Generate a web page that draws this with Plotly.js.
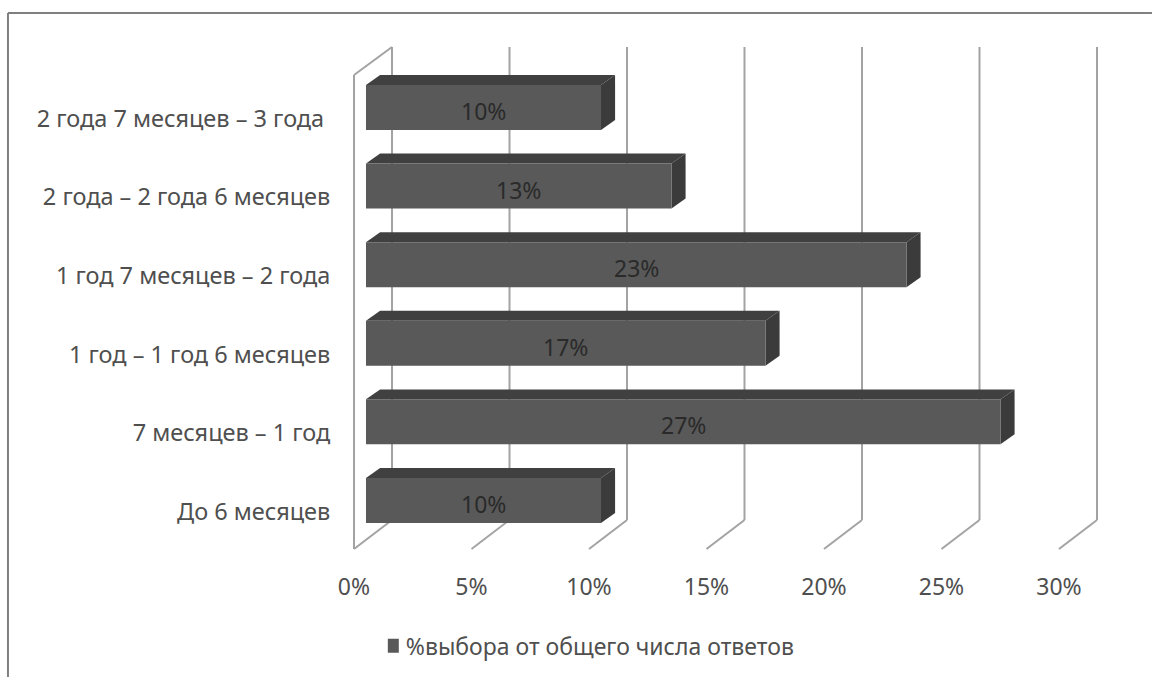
<!DOCTYPE html>
<html>
<head>
<meta charset="utf-8">
<script src="https://cdn.plot.ly/plotly-3.0.1.min.js"></script>
<style>html,body{margin:0;padding:0;background:#fff}</style>
</head>
<body>
<div id="chart" style="width:1152px;height:677px"></div>
<script>
// Duration groups, bottom to top, and their share of answers
const categories = [
  'До 6 месяцев',
  '7 месяцев – 1 год',
  '1 год – 1 год 6 месяцев',
  '1 год 7 месяцев – 2 года',
  '2 года – 2 года 6 месяцев',
  '2 года 7 месяцев – 3 года\u00a0'
];
const shares = [10, 27, 17, 23, 13, 10];
const seriesName = '%выбора от общего числа ответов';
const tickValues = [0, 5, 10, 15, 20, 25, 30];
const tickLabels = ['0%', '5%', '10%', '15%', '20%', '25%', '30%'];

// Pseudo-3D geometry, in axis units
const barBase = 0.51, barWidth = 0.5725, barOffset = -0.146;
const barDepthX = 0.6, barDepthY = 0.127;
const wallDepthX = 1.617;
const wallFront = [-0.477, 5.553], wallBack = [-0.108, 5.91];

const frontColor = '#595959', topColor = '#404040', sideColor = '#3b3b3b';
const gridLine = {color: '#a3a3a3', width: 2};

const shapes = [];
const poly = (pts, fill) => shapes.push({
  type: 'path', xref: 'x', yref: 'y', layer: 'below', fillcolor: fill,
  line: {width: 0},
  path: 'M' + pts.map(p => p.join(',')).join('L') + 'Z'
});
const seg = (x0, y0, x1, y1) => shapes.push({
  type: 'line', xref: 'x', yref: 'y', layer: 'below', x0, y0, x1, y1, line: gridLine
});

// Side wall and floor lines
seg(0, wallFront[0], 0, wallFront[1]);
seg(0, wallFront[1], wallDepthX, wallBack[1]);
tickValues.forEach(t => {
  seg(t + wallDepthX, wallBack[0], t + wallDepthX, wallBack[1]);
  seg(t, wallFront[0], t + wallDepthX, wallBack[0]);
});

// Top and end faces of every bar
shares.forEach((v, i) => {
  const x0 = barBase, x1 = barBase + v;
  const y0 = i + barOffset, y1 = y0 + barWidth;
  poly([[x0, y1], [x0 + barDepthX, y1 + barDepthY], [x1 + barDepthX, y1 + barDepthY], [x1, y1]], topColor);
  poly([[x1, y0], [x1 + barDepthX, y0 + barDepthY], [x1 + barDepthX, y1 + barDepthY], [x1, y1]], sideColor);
});

// Value labels sit just under the middle of each front face
const annotations = shares.map((v, i) => ({
  x: barBase + v / 2, y: i, xref: 'x', yref: 'y', text: v + '%', showarrow: false,
  yshift: 7.5, font: {family: 'Noto Sans', size: 23, color: '#2a2a2a'}
}));

const frame = [
  {type: 'line', xref: 'paper', yref: 'paper', x0: -0.4312, x1: -0.4312, y0: -0.21, y1: 1.0317,
   line: {color: '#808080', width: 2}},
  {type: 'line', xref: 'paper', yref: 'paper', x0: -0.4312, x1: 1.0545, y0: 1.0317, y1: 1.0317,
   line: {color: '#808080', width: 2}}
];

Plotly.newPlot('chart', [{
  type: 'bar', orientation: 'h', name: seriesName,
  y: categories, x: shares, base: barBase,
  width: barWidth, offset: barOffset,
  marker: {color: frontColor, line: {width: 0}},
  hoverinfo: 'y+x', showlegend: true
}], {
  width: 1152, height: 677,
  margin: {l: 340, r: 42, t: 30, b: 112, autoexpand: false},
  paper_bgcolor: '#fff', plot_bgcolor: '#fff',
  font: {family: 'Noto Sans', size: 23, color: '#4f4f4f'},
  xaxis: {
    range: [-0.596, 32.17], tickvals: tickValues, ticktext: tickLabels,
    showgrid: false, zeroline: false, showline: false,
    ticks: 'outside', ticklen: 1, tickcolor: 'rgba(0,0,0,0)'
  },
  yaxis: {
    type: 'category', categoryorder: 'array', categoryarray: categories,
    range: [-0.681, 6.126], tickfont: {size: 23.5},
    showgrid: false, zeroline: false, showline: false,
    ticks: 'outside', ticklen: 4, tickcolor: 'rgba(0,0,0,0)'
  },
  showlegend: true,
  legend: {orientation: 'h', x: 0.0621, xanchor: 'left', y: -0.151, yanchor: 'middle',
           bgcolor: 'rgba(0,0,0,0)', font: {family: 'Noto Sans', size: 23, color: '#4f4f4f'}},
  shapes: frame.concat(shapes),
  annotations
}, {displayModeBar: false, responsive: false}).then(gd => {
  // Tighten the legend swatch against its text
  const text = gd.querySelector('.legendtext');
  const shift = 22;
  if (text) {
    text.setAttribute('x', +text.getAttribute('x') - shift);
    text.querySelectorAll('tspan').forEach(t => {
      if (t.getAttribute('x')) t.setAttribute('x', +t.getAttribute('x') - shift);
    });
  }
  const sw = gd.querySelector('.legendpoints path');
  if (sw) sw.setAttribute('d', 'M-9,7H-23V-7H-9Z');
});
</script>
</body>
</html>
